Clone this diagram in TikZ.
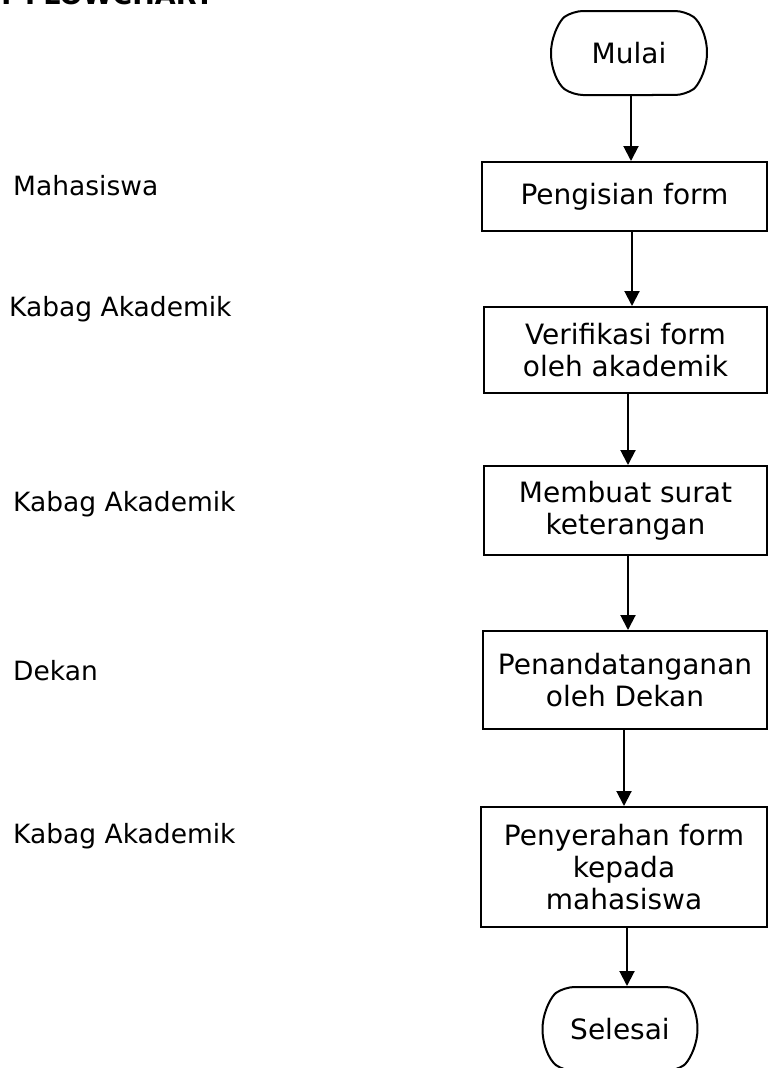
\documentclass[tikz,border=0pt]{standalone}
\usepackage{fontspec}
\setmainfont{DejaVu Sans}
\usepackage{tikz}
\usetikzlibrary{arrows.meta,shapes.misc}

\begin{document}
\begin{tikzpicture}[x=1pt,y=-1pt,
  teks/.style={font=\fontsize{28}{32}\selectfont},
  proses/.style={teks,draw,line width=2pt,rectangle,align=center,inner sep=0pt},
  terminal/.style={teks,draw,line width=2pt,rounded rectangle,rounded rectangle arc length=110,
    rounded corners=10pt,minimum width=156pt,minimum height=84pt,inner sep=0pt},
  aktor/.style={font=\fontsize{26.5}{32}\selectfont,anchor=base west,inner sep=0pt},
  panah/.style={line width=2pt,-{Triangle[width=15pt,length=15pt]}}]
\useasboundingbox (0,0) rectangle (769,1068);
\clip (0,0) rectangle (769,1068);

\node[anchor=base west,inner sep=0pt,font=\fontsize{27}{32}\selectfont\bfseries] (judul) at (-3,5) {T FLOWCHART};

\node[terminal] (mulai) at (629,53) {Mulai};
\node[proses,minimum width=285pt,minimum height=69pt] (isi) at (624.5,196.5) {Pengisian form};
\node[proses,minimum width=283pt,minimum height=86pt] (verif) at (625.5,350) {Verifikasi form\\oleh akademik};
\node[proses,minimum width=283pt,minimum height=89pt] (surat) at (625.5,510.5) {Membuat surat\\keterangan};
\node[proses,minimum width=284pt,minimum height=98pt] (ttd) at (625,680) {Penandatanganan\\oleh Dekan};
\node[proses,minimum width=286pt,minimum height=120pt] (serah) at (624,867) {Penyerahan form\\kepada\\mahasiswa};
\node[terminal,minimum width=155pt] (selesai) at (620,1029) {Selesai};

\node[aktor] (mhs) at (13,195) {Mahasiswa};
\node[aktor] (kabag1) at (9,316) {Kabag Akademik};
\node[aktor] (kabag2) at (13,511) {Kabag Akademik};
\node[aktor] (dekan) at (13,680) {Dekan};
\node[aktor] (kabag3) at (13,843) {Kabag Akademik};

\foreach \a/\b/\dx in {mulai/isi/2,isi/verif/7.5,verif/surat/2.5,surat/ttd/2.5,ttd/serah/-1,serah/selesai/3}
  \draw[panah] ([xshift=\dx]\a.south) -- ([xshift=\dx]\a.south |- \b.north);
\end{tikzpicture}
\end{document}
